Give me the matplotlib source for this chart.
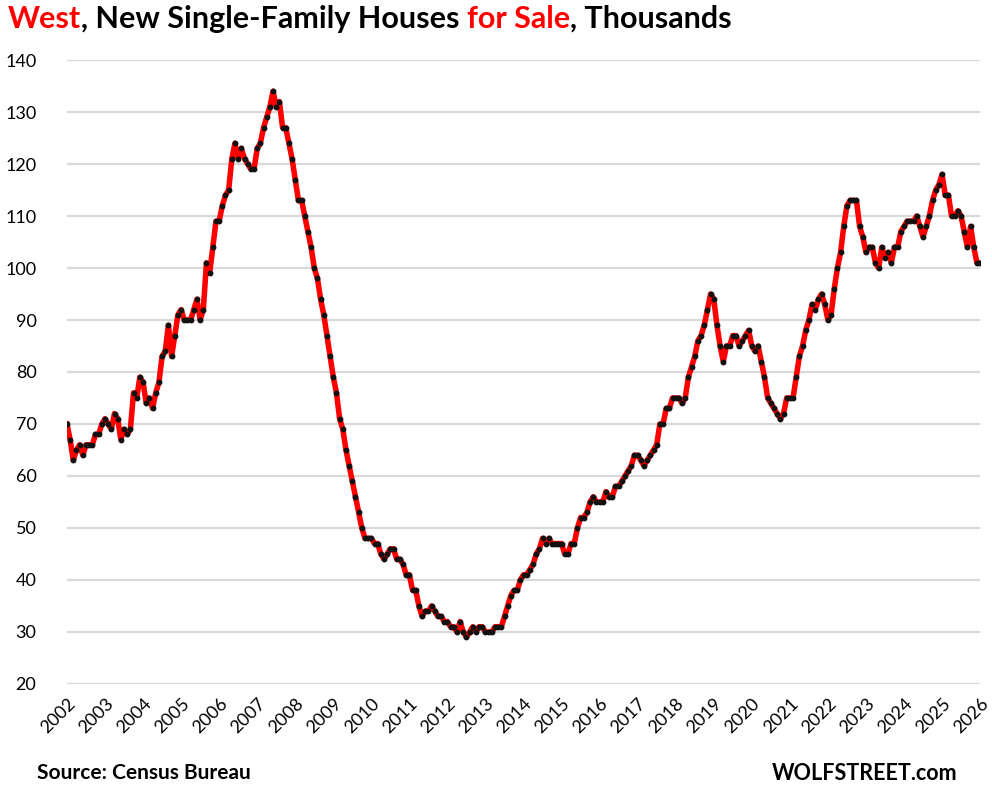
import numpy as np
import matplotlib
matplotlib.use("Agg")
import matplotlib.pyplot as plt

# monthly values, thousands, Jan 2002 .. Jan 2026
y2002 = [70, 67, 63, 65, 66, 64, 66, 66, 66, 68, 68, 70]
y2003 = [71, 70, 69, 72, 71, 67, 69, 68, 69, 76, 75, 79]
y2004 = [78, 74, 75, 73, 76, 78, 83, 84, 89, 83, 87, 91]
y2005 = [92, 90, 90, 90, 92, 94, 90, 92, 101, 99, 104, 109]
y2006 = [109, 112, 114, 115, 121, 124, 121, 123, 121, 120, 119, 119]
y2007 = [123, 124, 127, 129, 131, 134, 131, 132, 127, 127, 124, 121]
y2008 = [117, 113, 113, 110, 107, 104, 100, 98, 94, 91, 87, 83]
y2009 = [79, 76, 71, 69, 65, 62, 59, 56, 53, 50, 48, 48]
y2010 = [48, 47, 47, 45, 44, 45, 46, 46, 44, 44, 43, 41]
y2011 = [41, 38, 38, 35, 33, 34, 34, 35, 34, 33, 33, 32]
y2012 = [32, 31, 31, 30, 32, 30, 29, 30, 31, 30, 31, 31]
y2013 = [30, 30, 30, 31, 31, 31, 33, 35, 37, 38, 38, 40]
y2014 = [41, 41, 42, 43, 45, 46, 48, 47, 48, 47, 47, 47]
y2015 = [47, 45, 45, 47, 47, 50, 52, 52, 53, 55, 56, 55]
y2016 = [55, 55, 57, 56, 56, 58, 58, 59, 60, 61, 62, 64]
y2017 = [64, 63, 62, 63, 64, 65, 66, 70, 70, 73, 73, 75]
y2018 = [75, 75, 74, 75, 79, 81, 83, 86, 87, 89, 92, 95]
y2019 = [94, 89, 85, 82, 85, 85, 87, 87, 85, 86, 87, 88]
y2020 = [85, 84, 85, 82, 79, 75, 74, 73, 72, 71, 72, 75]
y2021 = [75, 75, 79, 83, 85, 88, 90, 93, 92, 94, 95, 93]
y2022 = [90, 91, 96, 100, 103, 108, 112, 113, 113, 113, 108, 106]
y2023 = [103, 104, 104, 101, 100, 104, 102, 103, 101, 104, 104, 107]
y2024 = [108, 109, 109, 109, 110, 108, 106, 108, 110, 113, 115, 116]
y2025 = [118, 114, 114, 110, 110, 111, 110, 107, 104, 108, 104, 101, 101]

values = (y2002 + y2003 + y2004 + y2005 + y2006 + y2007 + y2008 + y2009
          + y2010 + y2011 + y2012 + y2013 + y2014 + y2015 + y2016 + y2017
          + y2018 + y2019 + y2020 + y2021 + y2022 + y2023 + y2024 + y2025)
years = list(range(2002, 2027))

x = 2002 + np.arange(len(values)) / 12.0

plt.rcParams['font.family'] = ['Lato', 'DejaVu Sans']

fig = plt.figure(figsize=(9.92, 7.93), dpi=100)
ax = fig.add_axes([0.0675, 0.1375, 0.9205, 0.7868])

ax.plot(x, values, color='#ff0000', lw=4.0, solid_joinstyle='round', zorder=3)
ax.plot(x, values, ls='none', marker='o', ms=3.2, color='#111111', zorder=4)

ax.set_xlim(2002, 2026)
ax.set_ylim(20, 140)
ax.set_yticks(range(20, 141, 10))
ax.set_xticks(years)
ax.set_xticklabels([str(y) for y in years], rotation=45, ha='right', va='top',
                   rotation_mode='anchor', fontsize=13)
ax.tick_params(axis='y', labelsize=13, length=0, pad=22)
ax.tick_params(axis='x', length=0, pad=8)
ax.grid(axis='y', color='#d9d9d9', lw=1.6)
ax.set_axisbelow(True)
for s in ax.spines.values():
    s.set_visible(False)

# title in three colours, pieces placed one after another
parts = [("West", '#ff0000'), (", New Single-Family Houses ", 'black'),
         ("for Sale", '#ff0000'), (", Thousands", 'black')]
fig.canvas.draw()
r = fig.canvas.get_renderer()
xpos = 8
for txt, col in parts:
    t = fig.text(xpos / 992, 1 - 19 / 793, txt, color=col, fontsize=22,
                 fontweight='bold', va='center', ha='left')
    xpos = t.get_window_extent(renderer=r).x1

fig.text(37 / 992, 1 - 773 / 793, "Source: Census Bureau", fontsize=15,
         fontweight='bold', va='center', ha='left')
fig.text(957 / 992, 1 - 773 / 793, "WOLFSTREET.com", fontsize=15.5,
         fontweight='bold', va='center', ha='right')

fig.savefig("out.png", dpi=100)
